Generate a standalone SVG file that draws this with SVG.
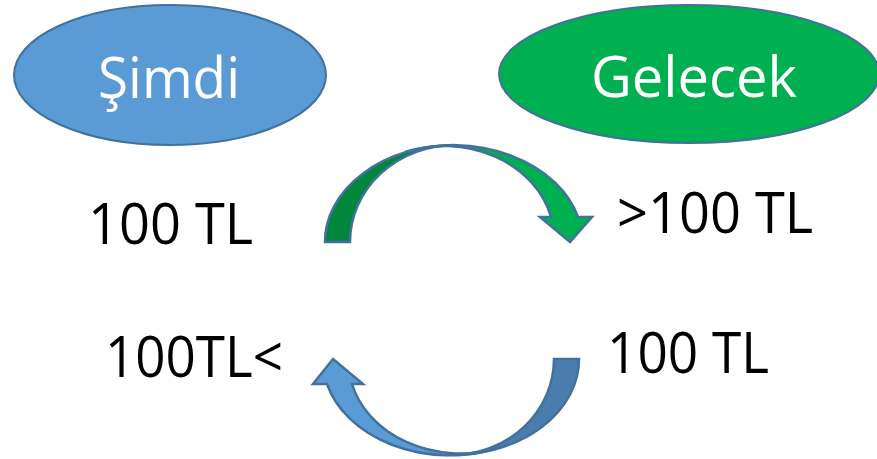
<svg xmlns="http://www.w3.org/2000/svg" width="877" height="459" viewBox="0 0 877 459">
<style>
.node{stroke:#41719C;stroke-width:2}
.lbl{font-family:"Open Sans","Noto Sans","Liberation Sans",sans-serif;font-size:57px;fill:#000}
.title{font-family:"Open Sans","Noto Sans","Liberation Sans",sans-serif;font-size:57px;fill:#fff}
.arr{stroke:#41719C;stroke-width:2.5;stroke-linejoin:miter}
</style>
<rect width="877" height="459" fill="#fff"/>
<g id="simdi">
<ellipse class="node" cx="170" cy="75" rx="156" ry="70" fill="#5B9BD5"/>
<text class="title" x="98" y="98" textLength="142" lengthAdjust="spacingAndGlyphs">Şimdi</text>
</g>
<g id="gelecek">
<ellipse class="node" cx="689" cy="74" rx="190" ry="69" fill="#00B050"/>
<text class="title" x="591" y="97" textLength="206" lengthAdjust="spacingAndGlyphs">Gelecek</text>
</g>
<g id="labels">
<text class="lbl" x="88" y="244" textLength="165" lengthAdjust="spacingAndGlyphs">100 TL</text>
<text class="lbl" x="617" y="233" textLength="196" lengthAdjust="spacingAndGlyphs">&gt;100 TL</text>
<text class="lbl" x="105" y="377" textLength="178" lengthAdjust="spacingAndGlyphs">100TL&lt;</text>
<text class="lbl" x="607" y="373" textLength="162" lengthAdjust="spacingAndGlyphs">100 TL</text>
</g>
<g id="connectors">
<g id="arrow-top">
<path class="arr" fill="#00873C" d="M325,242 A130 97 0 0 1 455,145 A105 97 0 0 0 350,242 Z"/>
<path class="arr" fill="#00B050" d="M405,152 A130 97 0 0 1 578,217 L592,217 L570,242 L540,217 L551,217 A110 93 0 0 0 405,152 Z"/>
</g>
<g id="arrow-bottom">
<path class="arr" fill="#4A7CAE" d="M579,359 A127 96 0 0 1 452,455 A102 96 0 0 0 554,359 Z"/>
<path class="arr" fill="#5B9BD5" d="M495,449 A127 96 0 0 1 327,384 L313,384 L333,359 L363,384 L352,384 A112 92 0 0 0 495,449 Z"/>
</g>
</g>
</svg>
